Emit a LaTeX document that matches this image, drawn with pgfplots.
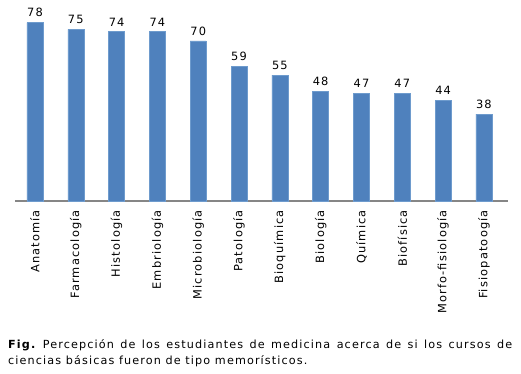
\documentclass[border=0pt]{standalone}
\usepackage{pgfplots}
\pgfplotsset{compat=1.18}
\usepackage{fontspec}
\setmainfont{DejaVu Sans}
\newfontfamily\labfont[LetterSpace=10]{DejaVu Sans}
\definecolor{barblue}{RGB}{79,129,189}
\definecolor{baredge}{RGB}{110,155,205}
\definecolor{axgray}{RGB}{134,134,134}
\frenchspacing
\begin{document}
\begin{tikzpicture}
\begin{axis}[
  at={(15bp,173bp)}, anchor=south west,
  scale only axis, width=493bp, height=183bp,
  xmin=-0.49, xmax=11.59, ymin=0, ymax=80,
  axis x line=bottom, axis y line=none,
  x axis line style={-, draw=axgray, line width=2bp},
  xtick={0,...,11},
  xticklabels={Anatomía,Farmacología,Histología,Embriología,Microbiología,Patología,Bioquímica,Biología,Química,Biofísica,Morfo-fisiología,Fisiopatoogía},
  major tick length=0pt,
  xticklabel style={rotate=90, anchor=east, font=\labfont\fontsize{11.4bp}{13bp}\selectfont, inner sep=0pt},
  xticklabel shift=9bp,
  ybar, bar width=16bp,
  clip=false,
  /pgf/number format/assume math mode=true,
  nodes near coords,
  every node near coord/.append style={font=\labfont\fontsize{11.4bp}{13bp}\selectfont, text=black, yshift=2bp},
]
\addplot[fill=barblue, draw=baredge, line width=0.6bp] coordinates {
(0,78) (1,75) (2,74) (3,74) (4,70) (5,59) (6,55) (7,48) (8,47) (9,47) (10,44) (11,38)};
\end{axis}
\node[anchor=north west, inner sep=0pt, align=left, font=\labfont\fontsize{11.2bp}{16bp}\selectfont] at (8bp,35bp)
  {\makebox[504bp][s]{\textbf{Fig.} Percepción de los estudiantes de medicina acerca de si los cursos de}\\
   ciencias básicas fueron de tipo memorísticos.};
\pgfresetboundingbox
\path[use as bounding box] (0,0) rectangle (521bp,374bp);
\end{tikzpicture}
\end{document}
